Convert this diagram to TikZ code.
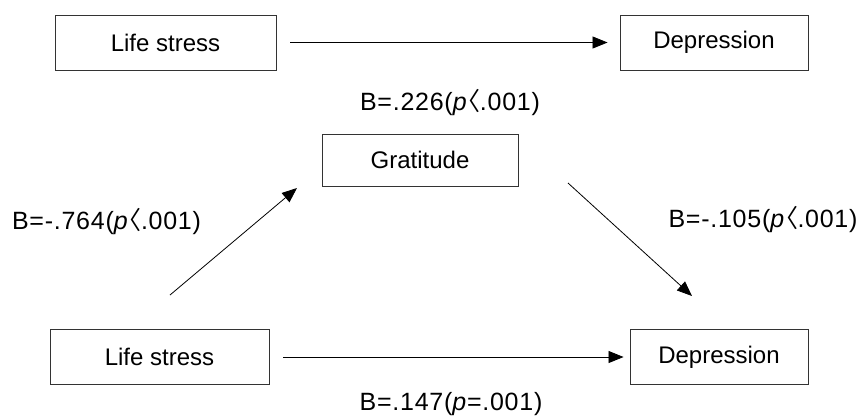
\documentclass[tikz,border=0pt]{standalone}
\usepackage{fontspec}
\setmainfont{Liberation Sans}
\newfontfamily\cjk[RawFeature=+palt]{Noto Sans CJK KR}
\usetikzlibrary{arrows.meta}
\newcommand\myang{{\cjk 〈}}
\begin{document}
\begin{tikzpicture}[x=1pt,y=-1pt,
  box/.style={draw=black!80, line width=0.9pt, minimum height=55pt, inner sep=0pt, font=\fontsize{24}{30}\selectfont},
  lbl/.style={inner sep=0pt, font=\fontsize{25}{30}\selectfont\addfontfeatures{LetterSpace=3}},
  arr/.style={-{Triangle[length=15pt,width=12pt]}, line width=0.8pt}]
\useasboundingbox (0,0) rectangle (861,416);
\node[box, minimum width=221pt] (ls1) at (165.5,42.5) {Life stress};
\node[box, minimum width=188pt] (dep1) at (714,42.5) {Depression};
\node[box, minimum width=196pt, minimum height=52pt] (grat) at (420,160) {Gratitude};
\node[box, minimum width=219pt] (ls2) at (159.5,357) {Life stress};
\node[box, minimum width=178pt] (dep2) at (719,357) {Depression};
\draw[arr, shorten <=14pt, shorten >=12pt] (ls1) -- (dep1);
\draw[arr, shorten <=14pt, shorten >=6pt] (ls2) -- (dep2);
\coordinate (a1) at (170,295);
\coordinate (a2) at (297,188);
\coordinate (b1) at (568,183);
\coordinate (b2) at (692,296);
\draw[arr] (a1) -- (a2);
\draw[arr] (b1) -- (b2);
\node[lbl] (l1) at (450,103) {B=.226(\textit{p}\myang.001)};
\node[lbl] (l2) at (106.5,222) {B=-.764(\textit{p}\myang.001)};
\node[lbl] (l4) at (763,220) {B=-.105(\textit{p}\myang.001)};
\node[lbl] (l3) at (451,404) {B=.147(\textit{p}=.001)};
\end{tikzpicture}
\end{document}
